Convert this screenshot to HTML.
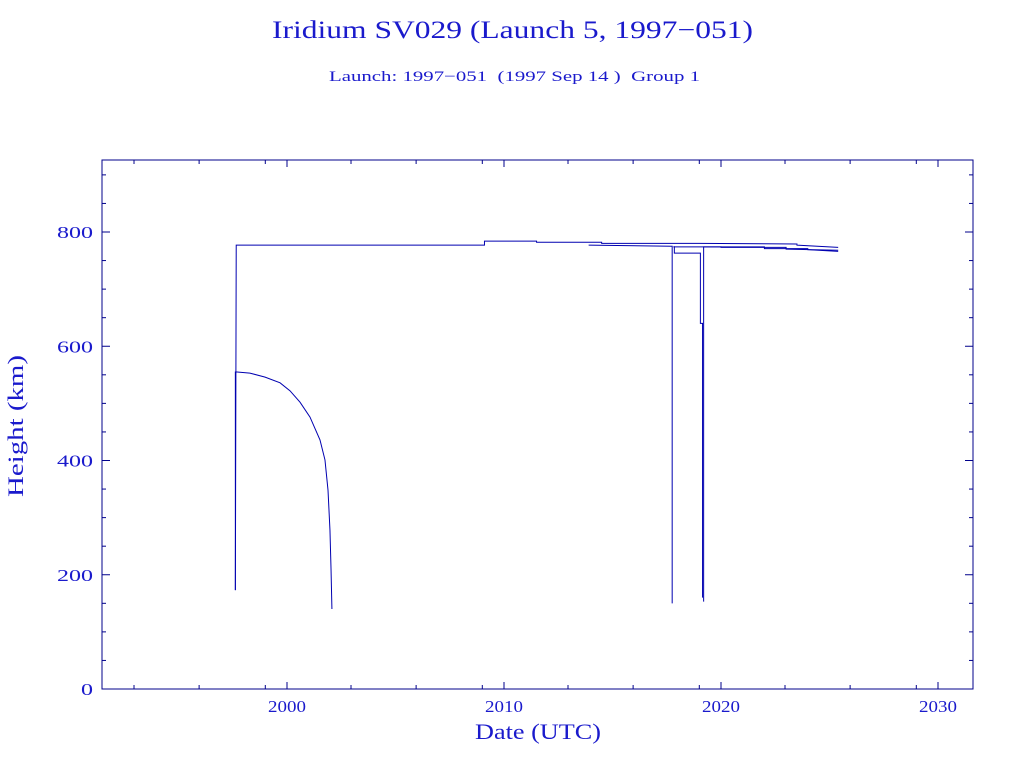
<!DOCTYPE html>
<html><head><meta charset="utf-8"><style>
body{margin:0;background:#fff;}
svg text{font-family:"Liberation Serif",serif;fill:#1a1acc;white-space:pre;}
</style></head><body>
<svg id="chart" width="1024" height="768" xmlns="http://www.w3.org/2000/svg">
<text x="272" y="38" font-size="25" textLength="481" lengthAdjust="spacingAndGlyphs">Iridium SV029 (Launch 5, 1997−051)</text>
<text x="329" y="81" font-size="15" textLength="371" lengthAdjust="spacingAndGlyphs" xml:space="preserve">Launch: 1997−051  (1997 Sep 14 )  Group 1</text>
<rect x="102" y="160" width="871" height="529" fill="none" stroke="#00008b" stroke-width="1"/>
<text x="475" y="739" font-size="22" textLength="126" lengthAdjust="spacingAndGlyphs">Date (UTC)</text>
<text transform="translate(23,497) rotate(-90)" font-size="22" textLength="142" lengthAdjust="spacingAndGlyphs">Height (km)</text>
<g id="axes"></g><g id="series"></g>
</svg>
<script>
const xTickLabels=[2000,2010,2020,2030];
const xMinorOffsets=[-1.0,2.95,5.95];
const yTickLabels=[0,200,400,600,800];
const decayYears=[1997.62,1997.62,1997.70,1998.29,1998.99,1999.68,2000.14,2000.60,2001.06,2001.52,2001.75,2001.89,2001.98,2002.03,2002.07];
const decayKm=[173,555,555,553,546,536,522,502,476,436,401,348,278,208,140];
const mainYears=[1997.62,1997.66,2009.1,2009.1,2011.5,2011.5,2014.5,2014.5,2019.0,2023.5,2023.5,2025.4];
const mainKm=[173,777,777,784,784,782,782,780,780,779,777,773];
const drop1Years=[2013.9,2017.75,2017.75];
const drop1Km=[777,775,150];
const drop2Years=[2017.85,2017.85,2019.05,2019.05,2019.15,2019.15];
const drop2Km=[775,763,763,640,640,160];
const drop3Years=[2019.2,2019.2,2022.0,2022.0,2024.0,2024.0,2025.4];
const drop3Km=[153,774,774,771,771,769,766];
const tailYears=[2017.8,2020.0,2020.0,2023.0,2023.0,2025.4];
const tailKm=[774,774,773,773,770,768];
const ns="http://www.w3.org/2000/svg";
const X=y=>287+(y-2000)*21.7;
const Y=k=>689-k*0.57125;
const axes=document.getElementById('axes'),ser=document.getElementById('series');
function line(g,x1,y1,x2,y2,name){const l=document.createElementNS(ns,'line');
l.setAttribute('x1',x1);l.setAttribute('y1',y1);l.setAttribute('x2',x2);l.setAttribute('y2',y2);
l.setAttribute('stroke','#00008b');


g.appendChild(l);}
function txt(x,y,s,anchor,w,name){const t=document.createElementNS(ns,'text');
t.setAttribute('x',x);t.setAttribute('y',y);t.setAttribute('text-anchor',anchor);t.setAttribute('font-size','17');
t.setAttribute('textLength',w);t.setAttribute('lengthAdjust','spacingAndGlyphs');t.textContent=s;


axes.appendChild(t);}
xTickLabels.forEach(v=>{const x=X(v);
line(axes,x,689,x,682,'x-major-tick');line(axes,x,160,x,167,'x-major-tick-top');
txt(x,712,String(v),'middle',38,'x-tick-label');
});
for(let d=1990;d<=2030;d+=10){xMinorOffsets.forEach(o=>{const yr=o<0?d+10+o:d+o;const x=X(yr);
if(x>103&&x<972){line(axes,x,689,x,685,'x-minor-tick');line(axes,x,160,x,164,'x-minor-tick-top');}});}
yTickLabels.forEach(v=>{const y=Y(v);
line(axes,102,y,110,y,'y-major-tick');line(axes,973,y,965,y,'y-major-tick-right');
const s=String(v);txt(93,y+6,s,'end',s.length*12,'y-tick-label');});
for(let k=50;k<=900;k+=50){if(k%200){const y=Y(k);line(axes,102,y,106,y,'y-minor-tick');line(axes,973,y,969,y,'y-minor-tick-right');}}
function track(ys,ks,name){const p=document.createElementNS(ns,'polyline');
p.setAttribute('points',ys.map((y,i)=>X(y)+','+Y(ks[i])).join(' '));
p.setAttribute('fill','none');p.setAttribute('stroke','#0000b0');p.setAttribute('stroke-width','1');


ser.appendChild(p);}
track(decayYears,decayKm,'decay-track');
track(mainYears,mainKm,'main-track');
track(drop1Years,drop1Km,'drop-track-1');
track(drop2Years,drop2Km,'drop-track-2');
track(drop3Years,drop3Km,'drop-track-3');
track(tailYears,tailKm,'tail-track');
</script>
</body></html>
